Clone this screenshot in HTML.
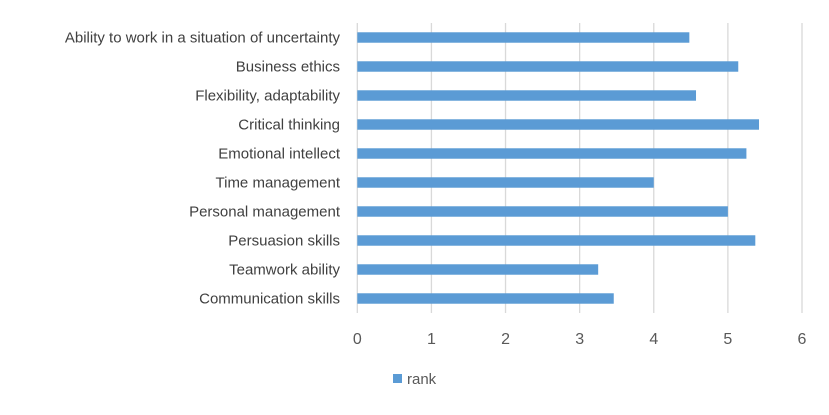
<!DOCTYPE html>
<html><head><meta charset="utf-8"><style>
body{margin:0;background:#fff;font-family:"Liberation Sans",sans-serif}
svg text{font-family:"Liberation Sans",sans-serif}
</style></head><body>
<svg id="chart" width="829" height="410" xmlns="http://www.w3.org/2000/svg">
<g id="grid"></g><g id="bars"></g><g id="ylabels"></g><g id="xlabels"></g>
<g>
<rect x="393" y="374" width="9" height="9" fill="#5b9bd5"/>
<text x="407" y="384" font-size="15" fill="#595959">rank</text>
</g>
</svg>
<script>
const categories=["Ability to work in a situation of uncertainty","Business ethics","Flexibility, adaptability","Critical thinking","Emotional intellect","Time management","Personal management","Persuasion skills","Teamwork ability","Communication skills"];
const values=[4.48,5.14,4.57,5.42,5.25,4.0,5.0,5.37,3.25,3.46];
const ticks=[0,1,2,3,4,5,6];
const NS="http://www.w3.org/2000/svg";
const plotX0=357.3,plotX1=802,plotTop=23,plotBottom=313;
function xs(v){return plotX0+(v-ticks[0])/(ticks[ticks.length-1]-ticks[0])*(plotX1-plotX0);}
const band=(plotBottom-plotTop)/categories.length;
function yc(i){return plotTop+band*(i+0.5);}
function mk(tag,attrs,parent){const e=document.createElementNS(NS,tag);for(const k in attrs)e.setAttribute(k,attrs[k]);document.getElementById(parent).appendChild(e);return e;}
ticks.forEach(t=>{
 const l=mk('line',{x1:xs(t),x2:xs(t),y1:plotTop,y2:plotBottom,stroke:'#d9d9d9','stroke-width':1.3},'grid');
 
 
 const tx=mk('text',{x:xs(t),y:344,'font-size':16,fill:'#595959','text-anchor':'middle'},'xlabels');
 tx.textContent=t;
 
 
});
categories.forEach((c,i)=>{
 const bh=band*0.36;
 const r=mk('rect',{x:xs(0),y:yc(i)-bh/2,width:xs(values[i])-xs(0),height:bh,fill:'#5b9bd5'},'bars');
 
 
 const t=mk('text',{x:340,y:yc(i)+5,'font-size':15,fill:'#404040','text-anchor':'end'},'ylabels');
 t.textContent=c;
 
 
});
</script>
</body></html>
